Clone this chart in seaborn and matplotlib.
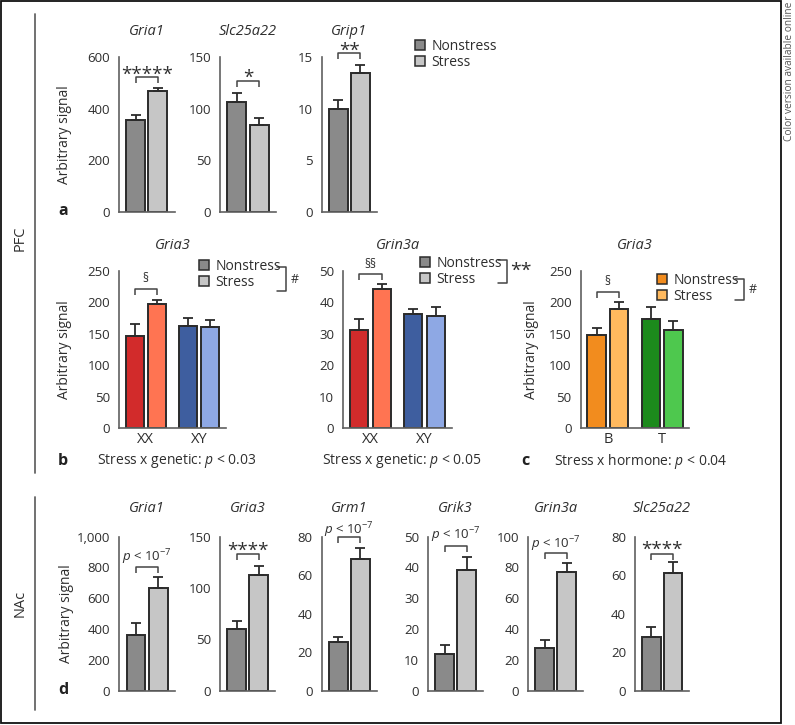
import numpy as np
import pandas as pd
import matplotlib
matplotlib.use("Agg")
import matplotlib.pyplot as plt
from matplotlib.patches import Patch, Rectangle
import seaborn as sns

# ---------------- data ----------------
a_genes = ["Gria1", "Slc25a22", "Grip1"]
a_nonstress = [355, 107, 9.95]
a_nonstress_err = [20, 8.5, 0.9]
a_stress = [469, 84.5, 13.45]
a_stress_err = [13, 6.5, 0.8]
a_ymax = [600, 150, 15]
a_yticks = [[0, 200, 400, 600], [0, 50, 100, 150], [0, 5, 10, 15]]
a_sig = ["*****", "*", "**"]
a_sig_y = [522, 127, 15.4]

b_groups = ["XX", "XY"]
b_gria3_nonstress = [147, 163]
b_gria3_nonstress_err = [18, 12]
b_gria3_stress = [197, 160.5]
b_gria3_stress_err = [7, 11.5]
b_grin3a_nonstress = [31.2, 36.2]
b_grin3a_nonstress_err = [3.4, 1.7]
b_grin3a_stress = [44.2, 35.7]
b_grin3a_stress_err = [1.8, 2.9]
b_footer = ["Stress x genetic: $p$ < 0.03", "Stress x genetic: $p$ < 0.05"]

c_groups = ["B", "T"]
c_gria3_nonstress = [147.5, 174.5]
c_gria3_nonstress_err = [12, 19]
c_gria3_stress = [190, 157]
c_gria3_stress_err = [10, 14]
c_footer = "Stress x hormone: $p$ < 0.04"

d_genes = ["Gria1", "Gria3", "Grm1", "Grik3", "Grin3a", "Slc25a22"]
d_nonstress = [362, 60.4, 25.5, 11.8, 27.7, 28.0]
d_nonstress_err = [76, 7.5, 2.5, 2.9, 5.0, 5.2]
d_stress = [667, 112.7, 68.2, 39.3, 77.2, 61.3]
d_stress_err = [73, 9.0, 6.0, 4.0, 5.6, 5.4]
d_ymax = [1000, 150, 80, 50, 100, 80]
d_yticks = [[0, 200, 400, 600, 800, 1000], [0, 50, 100, 150], [0, 20, 40, 60, 80],
            [0, 10, 20, 30, 40, 50], [0, 20, 40, 60, 80, 100], [0, 20, 40, 60, 80]]
d_yticklabels = [["0", "200", "400", "600", "800", "1,000"], None, None, None, None, None]
PV = r"$p$ < 10$^{\mathregular{-7}}$"
d_sig = [PV, "****", PV, PV, PV, "****"]
d_sig_y = [801, 133, 80, 47, 89.6, 70.9]

# ---------------- style ----------------
sns.set_theme(style="white")
plt.rcParams["font.family"] = ["Open Sans", "DejaVu Sans"]
plt.rcParams["mathtext.fontset"] = "custom"
plt.rcParams["mathtext.rm"] = "Open Sans"
plt.rcParams["mathtext.it"] = "Open Sans:italic"
plt.rcParams["mathtext.bf"] = "Open Sans:bold"

W, H = 795, 725
TXT = "#2e2e2e"
SPINE = "#606060"
EDGE = "#2b2b2b"
G_NS, G_S = "#8a8a8a", "#c6c6c6"
RED, CORAL, BLUE, LBLUE = "#d22b2b", "#ff7452", "#3e5e9f", "#8ea8e4"
ORANGE, LORANGE, GREEN, LGREEN = "#f28c1e", "#ffb95e", "#1c8a1c", "#4ec84e"

fig = plt.figure(figsize=(W / 100, H / 100), dpi=100)

ov = fig.add_axes([0, 0, 1, 1])
ov.set_xlim(0, W)
ov.set_ylim(H, 0)
ov.axis("off")
ov.patch.set_alpha(0)


def add_ax(x0, x1, ytop, ybot):
    ax = fig.add_axes([x0 / W, 1 - ybot / H, (x1 - x0) / W, (ybot - ytop) / H])
    ax.patch.set_alpha(0)
    return ax


def bars(ax, cats, ns, ns_err, s, s_err, colors, ymax, yticks, ylabels=None,
         width=0.8, gap=0.15, show_cats=False):
    df = pd.DataFrame({
        "group": list(cats) * 2,
        "cond": ["Nonstress"] * len(cats) + ["Stress"] * len(cats),
        "value": list(ns) + list(s),
    })
    sns.barplot(data=df, x="group", y="value", hue="cond", order=list(cats),
                hue_order=["Nonstress", "Stress"], palette=[G_NS, G_S],
                width=width, gap=gap, edgecolor=EDGE, linewidth=1.4,
                errorbar=None, legend=False, saturation=1, ax=ax)
    ps = sorted(ax.patches, key=lambda p: p.get_x())
    errs = []
    for i in range(len(cats)):
        errs += [ns_err[i], s_err[i]]
    for p, c, e in zip(ps, colors, errs):
        p.set_facecolor(c)
        xc = p.get_x() + p.get_width() / 2
        top = p.get_height()
        ax.errorbar([xc], [top], yerr=[[0], [e]], fmt="none", ecolor=EDGE,
                    elinewidth=1.3, capsize=3.5, capthick=1.3, zorder=3)
    n = len(cats)
    ax.set_xlim(-0.5, n - 0.5)
    ax.set_ylim(0, ymax)
    ax.set_yticks(yticks)
    if ylabels is not None:
        ax.set_yticklabels(ylabels)
    ax.set_xticks(np.arange(-0.5, n, 1.0))
    ax.set_xticklabels([""] * (n + 1))
    ax.set_xticks(np.arange(n), minor=True)
    ax.set_xticklabels(list(cats) if show_cats else [""] * n, minor=True)
    ax.tick_params(axis="x", which="minor", length=0, labelsize=10.5, labelcolor=TXT, pad=3)
    ax.tick_params(axis="both", which="major", direction="out", length=4.5, width=1.2,
                   color=SPINE, labelsize=9.5, labelcolor=TXT, pad=2)
    ax.set_xlabel("")
    ax.set_ylabel("")
    sns.despine(ax=ax)
    for sp in ("left", "bottom"):
        ax.spines[sp].set_color(SPINE)
        ax.spines[sp].set_linewidth(1.2)
    return ps


def sig(ax, ps, i0, i1, y, label, h_px, center_up, k, fs, leg_px=6):
    per_px = ax.get_ylim()[1] / h_px
    x0 = ps[i0].get_x() + ps[i0].get_width() / 2
    x1 = ps[i1].get_x() + ps[i1].get_width() / 2
    yl = y - leg_px * per_px
    ax.plot([x0, x0, x1, x1], [yl, y, y, yl], color="#444444", lw=1.1,
            clip_on=False, solid_capstyle="butt")
    base = y + (center_up - k * fs * 100 / 72) * per_px
    ax.text((x0 + x1) / 2, base, label, ha="center", va="baseline", fontsize=fs,
            color=TXT, clip_on=False)


def title(ax, text, ypx):
    bb = ax.get_position()
    xc = (bb.x0 + bb.x1) / 2 * W
    ov.text(xc, ypx, text, ha="center", va="center", fontsize=10.5, style="italic", color=TXT)


def legend(x, ytop, colors, bracket=None, mark=None, mark_fs=9.5, mark_dx=9):
    hs = [Patch(facecolor=c, edgecolor=EDGE, linewidth=1.1) for c in colors]
    lg = fig.legend(hs, ["Nonstress", "Stress"], loc="upper left",
                    bbox_to_anchor=(x, ytop), bbox_transform=ov.transData,
                    frameon=False, fontsize=10, handlelength=0.72, handleheight=0.72,
                    handletextpad=0.45, labelspacing=0.08, borderpad=0, borderaxespad=0)
    for t in lg.get_texts():
        t.set_color(TXT)
    if bracket is not None:
        bx, by0, by1 = bracket
        ov.plot([bx - 9, bx, bx, bx - 9], [by0, by0, by1, by1], color="#444444", lw=1.1)
        ov.text(bx + mark_dx, (by0 + by1) / 2, mark, ha="center", va="center",
                fontsize=mark_fs, color=TXT)


K_AST, K_SEC, K_P = 0.55, 0.33, 0.33

# ---------------- panel a ----------------
a_x = [(119, 174.5), (220, 276), (321.7, 377)]
A_TOP, A_BOT = 57.3, 211.7
for i, (x0, x1) in enumerate(a_x):
    ax = add_ax(x0, x1, A_TOP, A_BOT)
    ps = bars(ax, [a_genes[i]], [a_nonstress[i]], [a_nonstress_err[i]], [a_stress[i]],
              [a_stress_err[i]], [G_NS, G_S], a_ymax[i], a_yticks[i])
    sig(ax, ps, 0, 1, a_sig_y[i], a_sig[i], A_BOT - A_TOP, 8, K_AST, 13.5)
    title(ax, a_genes[i], 31.5)
legend(415, 38.5, [G_NS, G_S])

# ---------------- panel b ----------------
B_TOP, B_BOT = 271, 428.3
ax = add_ax(119, 225.7, B_TOP, B_BOT)
ps = bars(ax, b_groups, b_gria3_nonstress, b_gria3_nonstress_err, b_gria3_stress,
          b_gria3_stress_err, [RED, CORAL, BLUE, LBLUE], 250, [0, 50, 100, 150, 200, 250],
          width=0.83, gap=0.19, show_cats=True)
sig(ax, ps, 0, 1, 222, "§", B_BOT - B_TOP, 11, K_SEC, 8.5)
title(ax, "Gria3", 245)
legend(199, 258.5, [G_NS, G_S], bracket=(285.5, 267, 291), mark="#", mark_fs=9, mark_dx=9)

ax = add_ax(343.3, 451.7, B_TOP, B_BOT)
ps = bars(ax, b_groups, b_grin3a_nonstress, b_grin3a_nonstress_err, b_grin3a_stress,
          b_grin3a_stress_err, [RED, CORAL, BLUE, LBLUE], 50, [0, 10, 20, 30, 40, 50],
          width=0.83, gap=0.19, show_cats=True)
sig(ax, ps, 0, 1, 49.1, "§§", B_BOT - B_TOP, 10, K_SEC, 8.5)
title(ax, "Grin3a", 245)
legend(420, 256, [G_NS, G_S], bracket=(507, 260, 282.5), mark="**", mark_fs=14, mark_dx=14)

# ---------------- panel c ----------------
ax = add_ax(580.7, 689.3, B_TOP, B_BOT)
ps = bars(ax, c_groups, c_gria3_nonstress, c_gria3_nonstress_err, c_gria3_stress,
          c_gria3_stress_err, [ORANGE, LORANGE, GREEN, LGREEN], 250, [0, 50, 100, 150, 200, 250],
          width=0.83, gap=0.19, show_cats=True)
sig(ax, ps, 0, 1, 216, "§", B_BOT - B_TOP, 11, K_SEC, 8.5)
title(ax, "Gria3", 245)
legend(657, 273, [ORANGE, LORANGE], bracket=(744, 278.5, 299.5), mark="#", mark_fs=9, mark_dx=9)

# ---------------- panel d ----------------
d_x = [(119.3, 175), (220, 275), (321.7, 377), (428.3, 483), (528.3, 583.3), (635, 689.3)]
D_TOP, D_BOT = 536.7, 690.7
d_center_up = [10.5, 9, 7, 11, 9, 10]
for i, (x0, x1) in enumerate(d_x):
    ax = add_ax(x0, x1, D_TOP, D_BOT)
    ps = bars(ax, [d_genes[i]], [d_nonstress[i]], [d_nonstress_err[i]], [d_stress[i]],
              [d_stress_err[i]], [G_NS, G_S], d_ymax[i], d_yticks[i], d_yticklabels[i])
    is_p = d_sig[i] == PV
    sig(ax, ps, 0, 1, d_sig_y[i], d_sig[i], D_BOT - D_TOP, d_center_up[i],
        K_P if is_p else K_AST, 9.5 if is_p else 13.5)
    title(ax, d_genes[i], 509)

# ---------------- overlay text / frame ----------------
ov.add_patch(Rectangle((1, 1), 780, 722, fill=False, edgecolor="#111111", lw=1.3))
ov.plot([35, 35], [14, 473], color="#666666", lw=1.3)
ov.plot([35, 35], [497, 710], color="#666666", lw=1.3)
ov.text(20, 238, "PFC", rotation=90, ha="center", va="center", fontsize=10.5, color=TXT)
ov.text(20, 603, "NAc", rotation=90, ha="center", va="center", fontsize=10.5, color=TXT)
ov.text(789, 2, "Color version available online", rotation=90, ha="center", va="top",
        fontsize=7.3, color="#555555")

for (lx, ly) in [(65, 134.5), (65, 350), (531.5, 350), (66, 613.7)]:
    ov.text(lx, ly, "Arbitrary signal", rotation=90, ha="center", va="center",
            fontsize=10, color=TXT)

for (lx, ly, s) in [(63, 211, "a"), (63, 461, "b"), (525, 461, "c"), (63, 690, "d")]:
    ov.text(lx, ly, s, ha="center", va="center", fontsize=11.5, fontweight="bold", color="#222222")

ov.text(96.7, 461, b_footer[0], ha="left", va="center", fontsize=10, color=TXT)
ov.text(321.7, 461, b_footer[1], ha="left", va="center", fontsize=10, color=TXT)
ov.text(554, 461, c_footer, ha="left", va="center", fontsize=10, color=TXT)

fig.savefig("out.png", dpi=100)
